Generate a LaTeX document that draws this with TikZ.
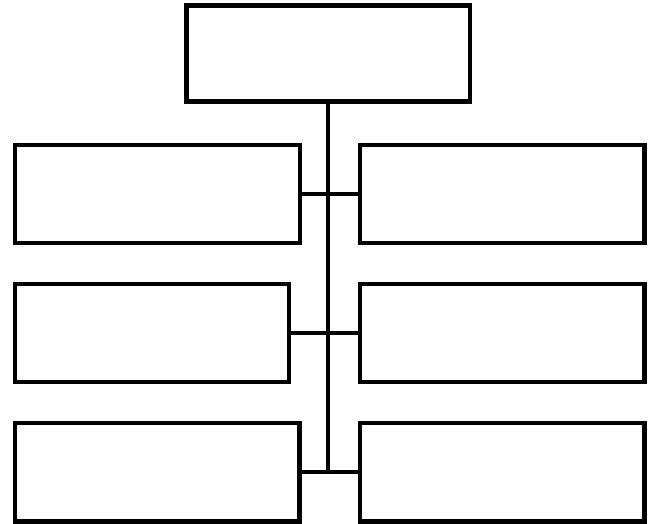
\documentclass[tikz,border=0pt]{standalone}
\begin{document}
\begin{tikzpicture}[x=1pt,y=1pt,
  boxnode/.style={draw=black,line width=4.3pt,fill=none,rectangle,inner sep=0pt,outer sep=0pt,minimum height=98pt},
  conn/.style={draw=black,line width=4.3pt}]
\useasboundingbox (0,0) rectangle (651,524);
\fill[white] (0,0) rectangle (651,524);
\node[boxnode,minimum width=283.5pt,minimum height=96pt] (top) at (328.25,470.5) {};
\node[boxnode,minimum width=284.7pt] (l1) at (157.65,330.15) {};
\node[boxnode,minimum width=284.5pt] (r1) at (502.25,330.15) {};
\node[boxnode,minimum width=273.7pt] (l2) at (152.15,191) {};
\node[boxnode,minimum width=284.5pt] (r2) at (502.25,191) {};
\node[boxnode,minimum width=284.2pt,minimum height=98.5pt] (l3) at (157.4,51.75) {};
\node[boxnode,minimum width=284.5pt,minimum height=98.5pt] (r3) at (502.25,51.75) {};
\coordinate (bot) at (top.south |- l3.east);
\draw[conn] (top.south) -- (bot);
\draw[conn] (l1.east) -- (r1.west);
\draw[conn] (l2.east) -- (r2.west);
\draw[conn] (l3.east) -- (r3.west);
\end{tikzpicture}
\end{document}
